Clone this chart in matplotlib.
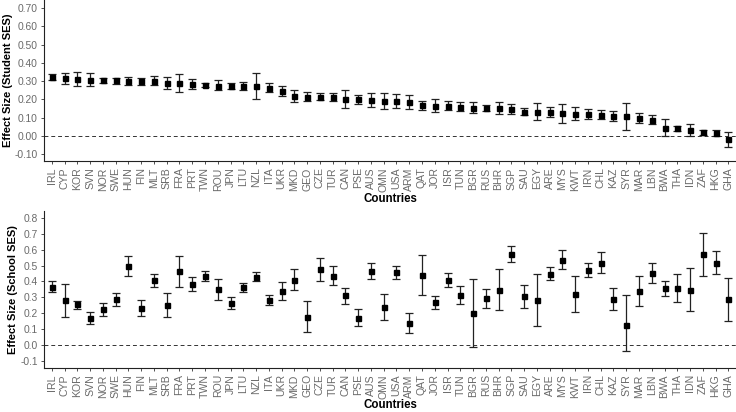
import numpy as np
import matplotlib
matplotlib.use('Agg')
import matplotlib.pyplot as plt
from matplotlib.ticker import FormatStrFormatter

plt.rcParams['font.family'] = ['Liberation Sans', 'DejaVu Sans']

countries = ['IRL', 'CYP', 'KOR', 'SVN', 'NOR', 'SWE', 'HUN', 'FIN', 'MLT', 'SRB',
             'FRA', 'PRT', 'TWN', 'ROU', 'JPN', 'LTU', 'NZL', 'ITA', 'UKR', 'MKD',
             'GEO', 'CZE', 'TUR', 'CAN', 'PSE', 'AUS', 'OMN', 'USA', 'ARM', 'QAT',
             'JOR', 'ISR', 'TUN', 'BGR', 'RUS', 'BHR', 'SGP', 'SAU', 'EGY', 'ARE',
             'MYS', 'KWT', 'IRN', 'CHL', 'KAZ', 'SYR', 'MAR', 'LBN', 'BWA', 'THA',
             'IDN', 'ZAF', 'HKG', 'GHA']

# student SES effect sizes with lower / upper bounds
student_es = [0.321, 0.316, 0.310, 0.306, 0.305, 0.305, 0.300, 0.300, 0.300, 0.291,
              0.288, 0.284, 0.279, 0.275, 0.273, 0.273, 0.273, 0.262, 0.248, 0.217,
              0.215, 0.215, 0.213, 0.202, 0.200, 0.197, 0.193, 0.191, 0.186, 0.169,
              0.166, 0.166, 0.160, 0.155, 0.152, 0.151, 0.148, 0.133, 0.133, 0.129,
              0.124, 0.122, 0.120, 0.117, 0.108, 0.108, 0.097, 0.089, 0.045, 0.042,
              0.033, 0.020, 0.016, -0.018]
student_lo = [0.305, 0.286, 0.273, 0.273, 0.290, 0.286, 0.277, 0.281, 0.281, 0.260,
              0.240, 0.255, 0.268, 0.250, 0.257, 0.253, 0.202, 0.239, 0.219, 0.186,
              0.190, 0.196, 0.190, 0.155, 0.174, 0.160, 0.148, 0.152, 0.148, 0.144,
              0.131, 0.140, 0.137, 0.126, 0.137, 0.119, 0.122, 0.113, 0.086, 0.104,
              0.073, 0.086, 0.093, 0.093, 0.082, 0.033, 0.071, 0.066, -0.001, 0.029,
              0.002, 0.005, 0.002, -0.060]
student_hi = [0.339, 0.343, 0.348, 0.344, 0.319, 0.320, 0.324, 0.320, 0.326, 0.324,
              0.337, 0.313, 0.288, 0.304, 0.289, 0.293, 0.343, 0.288, 0.273, 0.250,
              0.240, 0.233, 0.237, 0.250, 0.227, 0.233, 0.233, 0.228, 0.224, 0.193,
              0.204, 0.193, 0.184, 0.184, 0.168, 0.186, 0.175, 0.155, 0.179, 0.157,
              0.173, 0.159, 0.148, 0.140, 0.135, 0.182, 0.124, 0.113, 0.091, 0.055,
              0.064, 0.035, 0.031, 0.024]

# school SES effect sizes with lower / upper bounds
school_es = [0.367, 0.281, 0.256, 0.170, 0.224, 0.287, 0.500, 0.234, 0.407, 0.252,
             0.464, 0.386, 0.433, 0.351, 0.267, 0.365, 0.429, 0.285, 0.341, 0.412,
             0.178, 0.480, 0.437, 0.312, 0.172, 0.464, 0.238, 0.457, 0.139, 0.439,
             0.271, 0.408, 0.318, 0.203, 0.295, 0.347, 0.572, 0.306, 0.283, 0.449,
             0.537, 0.320, 0.474, 0.519, 0.291, 0.125, 0.338, 0.455, 0.357, 0.359,
             0.347, 0.570, 0.519, 0.287]
school_lo = [0.332, 0.178, 0.230, 0.133, 0.183, 0.244, 0.437, 0.183, 0.367, 0.176,
             0.367, 0.340, 0.400, 0.283, 0.228, 0.334, 0.402, 0.250, 0.283, 0.347,
             0.082, 0.404, 0.379, 0.260, 0.121, 0.414, 0.156, 0.418, 0.078, 0.316,
             0.226, 0.363, 0.260, -0.012, 0.234, 0.219, 0.523, 0.234, 0.121, 0.410,
             0.478, 0.207, 0.427, 0.453, 0.222, -0.035, 0.244, 0.392, 0.310, 0.271,
             0.213, 0.437, 0.449, 0.154]
school_hi = [0.402, 0.384, 0.279, 0.209, 0.263, 0.328, 0.562, 0.283, 0.447, 0.328,
             0.562, 0.431, 0.468, 0.418, 0.300, 0.392, 0.457, 0.318, 0.396, 0.478,
             0.275, 0.550, 0.496, 0.359, 0.224, 0.513, 0.324, 0.496, 0.199, 0.564,
             0.310, 0.455, 0.373, 0.418, 0.355, 0.476, 0.624, 0.375, 0.445, 0.490,
             0.597, 0.433, 0.519, 0.583, 0.357, 0.312, 0.435, 0.519, 0.404, 0.447,
             0.484, 0.706, 0.589, 0.423]

TICK_GREY = '#6a6a6a'


def draw_panel(ax, es, lo, hi, ylabel, yticks, fmt, ylim):
	x = np.arange(len(countries))
	es = np.array(es)
	err = [es - np.array(lo), np.array(hi) - es]
	ax.axhline(0, color='#333333', linestyle=(0, (4, 3)), linewidth=0.7, zorder=1)
	ax.errorbar(x, es, yerr=err, fmt='s', color='black', markersize=3.6,
		ecolor='#222222', elinewidth=0.9, capsize=3, capthick=0.9, zorder=3)
	ax.set_xlim(-0.6, len(countries) - 0.4)
	ax.set_ylim(*ylim)
	ax.set_xticks(x)
	ax.set_xticklabels(countries, rotation=90, fontsize=7.6, color=TICK_GREY)
	ax.set_yticks(yticks)
	ax.yaxis.set_major_formatter(FormatStrFormatter(fmt))
	ax.tick_params(axis='y', labelsize=7.4, labelcolor=TICK_GREY)
	ax.tick_params(axis='both', color='#333333', length=2.5, width=0.6, pad=2)
	for side in ['top', 'right']:
		ax.spines[side].set_visible(False)
	for side in ['left', 'bottom']:
		ax.spines[side].set_linewidth(0.8)
		ax.spines[side].set_color('#222222')
	ax.set_xlabel('Countries', fontsize=8.3, fontweight='bold', labelpad=0.5)
	ax.set_ylabel(ylabel, fontsize=8.0, fontweight='bold', labelpad=1.5)


fig = plt.figure(figsize=(7.36, 4.12), dpi=100)
ax1 = fig.add_axes([0.06, 0.609, 0.94, 0.391])
ax2 = fig.add_axes([0.06, 0.107, 0.94, 0.381])

draw_panel(ax1, student_es, student_lo, student_hi, 'Effect Size (Student SES)',
	np.round(np.arange(-0.1, 0.71, 0.1), 2), '%.2f', (-0.137, 0.744))
draw_panel(ax2, school_es, school_lo, school_hi, 'Effect Size (School SES)',
	np.round(np.arange(-0.1, 0.81, 0.1), 1), '%.1f', (-0.143, 0.843))

plt.savefig('out.png', dpi=100)
plt.close()
